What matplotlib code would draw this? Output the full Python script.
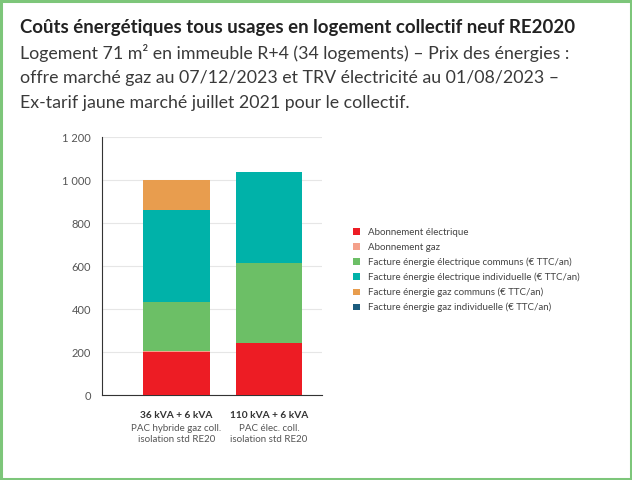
import numpy as np
import matplotlib.pyplot as plt
from matplotlib.patches import Rectangle

plt.rcParams['font.family'] = ['Lato', 'DejaVu Sans']
narrow = ['Liberation Sans Narrow', 'Lato', 'DejaVu Sans']

categories = ["36 kVA + 6 kVA", "110 kVA + 6 kVA"]
subtitles = ["PAC hybride gaz coll.\nisolation std RE20", "PAC élec. coll.\nisolation std RE20"]
series_names = [
    "Abonnement électrique",
    "Abonnement gaz",
    "Facture énergie électrique communs (€ TTC/an)",
    "Facture énergie électrique individuelle (€ TTC/an)",
    "Facture énergie gaz communs (€ TTC/an)",
    "Facture énergie gaz individuelle (€ TTC/an)",
]
abo_elec = [200, 243]
abo_gaz = [3, 0]
elec_communs = [231, 372]
elec_indiv = [426, 423]
gaz_communs = [140, 0]
gaz_indiv = [0, 0]
series = [abo_elec, abo_gaz, elec_communs, elec_indiv, gaz_communs, gaz_indiv]
colors = ["#ED1C24", "#F4A08A", "#6CBF66", "#00B2A9", "#E89D4E", "#1B5C7E"]
yticks = [0, 200, 400, 600, 800, 1000, 1200]
ytick_labels = ["0", "200", "400", "600", "800", "1 000", "1 200"]

fig = plt.figure(figsize=(6.32, 4.8), dpi=100)
fig.patch.set_facecolor("white")
fig.add_artist(Rectangle((0.002, 0.003), 0.996, 0.994, transform=fig.transFigure,
                         fill=False, edgecolor="#7DC67A", linewidth=2.2))

fig.text(0.032, 0.942, "Coûts énergétiques tous usages en logement collectif neuf RE2020",
         fontsize=13.4, fontweight="bold", color="#222222", va="center")
sub = ["Logement 71 m² en immeuble R+4 (34 logements) – Prix des énergies :",
       "offre marché gaz au 07/12/2023 et TRV électricité au 01/08/2023 –",
       "Ex-tarif jaune marché juillet 2021 pour le collectif."]
for i, line in enumerate(sub):
    fig.text(0.032, 0.890 - i * 0.052, line, fontsize=12.8, color="#3A3A3A",
             fontweight="normal", va="center")

ax = fig.add_axes([0.1614, 0.177, 0.348, 0.5375])
x = np.arange(len(categories))
bottom = np.zeros(len(categories))
for name, vals, c in zip(series_names, series, colors):
    ax.bar(x, vals, bottom=bottom, width=0.72, color=c, label=name, zorder=3)
    bottom += np.array(vals)

ax.set_xlim(-0.805, 1.573)
ax.set_ylim(0, 1200)
ax.set_yticks(yticks)
ax.set_yticklabels(ytick_labels, fontsize=8, color="#555555")
ax.grid(axis="y", color="#E6E6E6", linewidth=0.8, zorder=0)
for s in ["top", "right"]:
    ax.spines[s].set_visible(False)
ax.spines["left"].set_color("#333333")
ax.spines["bottom"].set_color("#333333")
ax.tick_params(axis="y", length=0, pad=8)
ax.tick_params(axis="x", length=0)
ax.set_xticks(x)
ax.set_xticklabels([])
for xi, cat, st in zip(x, categories, subtitles):
    ax.annotate(cat, (xi, 0), xycoords=("data", "axes fraction"), xytext=(0, -15),
                textcoords="offset points", ha="center", va="center",
                fontsize=7.3, fontweight="bold", color="#333333")
    ax.annotate(st, (xi, 0), xycoords=("data", "axes fraction"), xytext=(0, -20.5),
                textcoords="offset points", ha="center", va="top",
                fontsize=7, color="#555555", linespacing=1.3, family=narrow)

handles, labels = ax.get_legend_handles_labels()
leg = fig.legend(handles, labels, loc="upper left", bbox_to_anchor=(0.545, 0.543),
                 frameon=False, handlelength=0.7, handleheight=0.7,
                 handletextpad=0.8, labelspacing=0.58, labelcolor="#444444",
                 prop={'family': narrow, 'size': 7})

fig.savefig("out.png", dpi=100, facecolor="white")
